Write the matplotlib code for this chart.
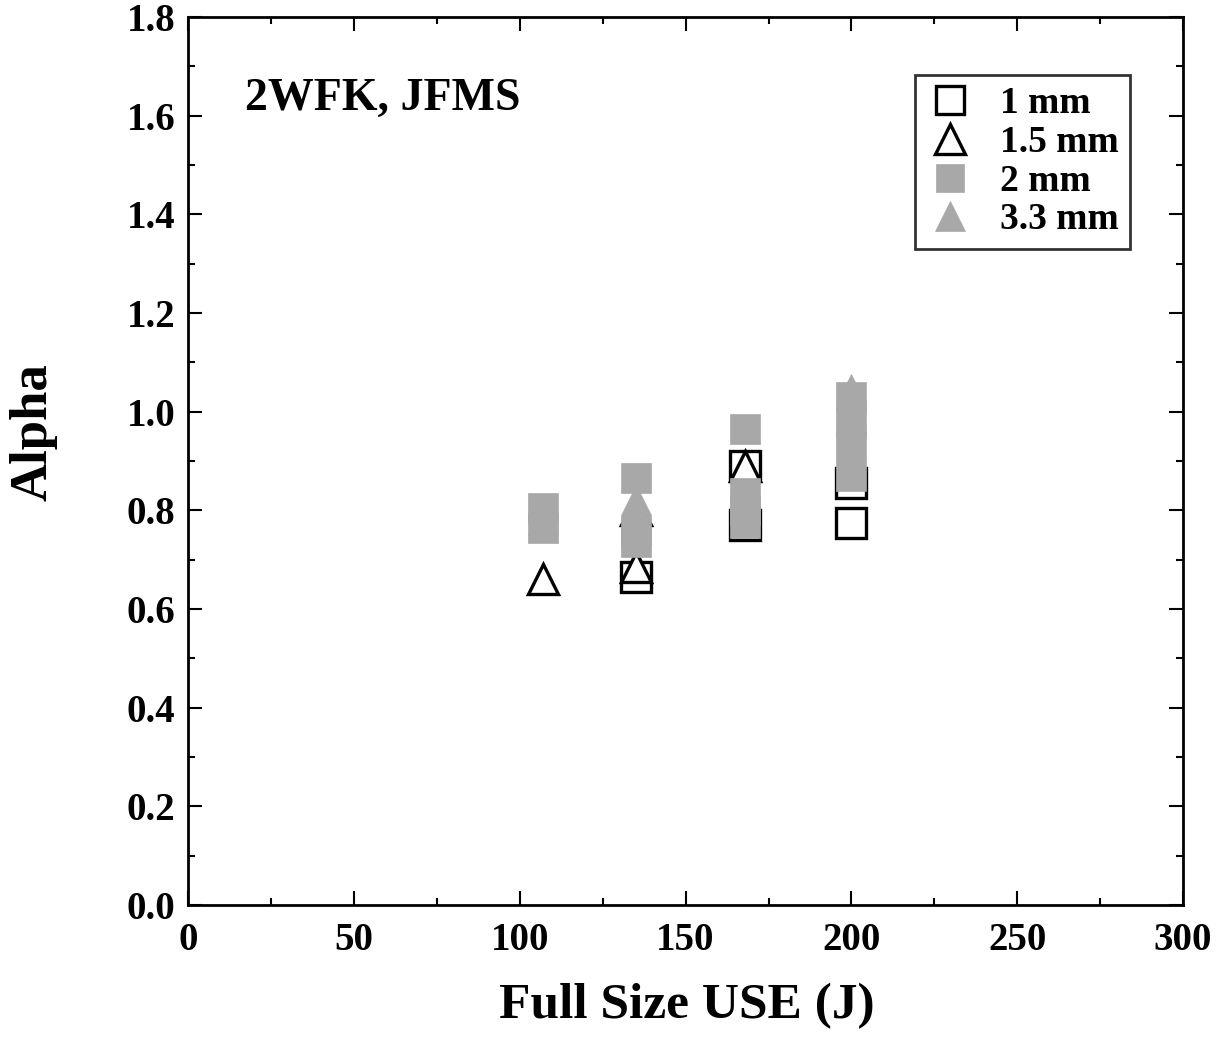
"""
Alpha vs full size upper shelf energy, 2WFK / JFMS
"""

import matplotlib
matplotlib.use('Agg')
import matplotlib.pyplot as plt
from matplotlib.ticker import MultipleLocator, FormatStrFormatter

plt.rcParams['font.family'] = ['Liberation Serif', 'DejaVu Serif']
plt.rcParams['font.weight'] = 'bold'

# 1 mm (open squares)
x_1mm = [135, 168, 168, 200, 200]
y_1mm = [0.665, 0.89, 0.77, 0.855, 0.775]

# 1.5 mm (open triangles)
x_15mm = [107, 135, 135, 168]
y_15mm = [0.66, 0.685, 0.80, 0.89]

# 2 mm (filled squares)
x_2mm = [107, 107, 135, 135, 135, 168, 168, 168, 168, 200, 200, 200, 200]
y_2mm = [0.805, 0.765, 0.865, 0.76, 0.735, 0.965, 0.835, 0.80, 0.775, 1.03, 0.98, 0.93, 0.87]

# 3.3 mm (filled triangles)
x_33mm = [107, 135, 168, 200]
y_33mm = [0.78, 0.82, 0.82, 1.045]

gray = '#a8a8a8'

fig = plt.figure(figsize=(12.21, 10.37), dpi=100)
ax = fig.add_axes([0.154, 0.1273, 0.815, 0.8563])

ax.plot(x_1mm, y_1mm, 's', ms=21.5, mfc='white', mec='black', mew=2.4,
        linestyle='none', label='1 mm')
ax.plot(x_15mm, y_15mm, '^', ms=22, mfc='white', mec='black', mew=2.4,
        linestyle='none', label='1.5 mm')
ax.plot(x_2mm, y_2mm, 's', ms=21.5, mfc=gray, mec=gray, mew=0.5,
        linestyle='none', label='2 mm')
ax.plot(x_33mm, y_33mm, '^', ms=22, mfc=gray, mec=gray, mew=0.5,
        linestyle='none', label='3.3 mm')

ax.set_xlim(0, 300)
ax.set_ylim(0, 1.8)
ax.xaxis.set_major_locator(MultipleLocator(50))
ax.xaxis.set_minor_locator(MultipleLocator(25))
ax.yaxis.set_major_locator(MultipleLocator(0.2))
ax.yaxis.set_minor_locator(MultipleLocator(0.1))
ax.yaxis.set_major_formatter(FormatStrFormatter('%.1f'))

ax.tick_params(which='both', direction='in', top=True, right=True, width=1.5)
ax.tick_params(which='major', length=10, labelsize=28)
ax.tick_params(axis='x', which='major', pad=12)
ax.tick_params(axis='y', which='major', pad=9)
ax.tick_params(which='minor', length=5)
for lbl in ax.get_xticklabels() + ax.get_yticklabels():
    lbl.set_fontweight('bold')
for s in ax.spines.values():
    s.set_linewidth(2)

ax.set_xlabel('Full Size USE (J)', fontsize=37, fontweight='bold')
ax.xaxis.set_label_coords(0.5015, -0.088)
ax.set_ylabel('Alpha', fontsize=38, fontweight='bold')
ax.yaxis.set_label_coords(-0.131, 0.532)

ax.text(0.057, 0.908, '2WFK, JFMS', transform=ax.transAxes,
        fontsize=33, fontweight='bold', va='center', ha='left')

leg = ax.legend(loc='upper right', bbox_to_anchor=(0.9467, 0.9347),
                fontsize=27, frameon=True, fancybox=False, edgecolor='black',
                handletextpad=0.68, borderpad=0.3, labelspacing=0.1,
                handlelength=1.3, borderaxespad=0, markerscale=0.95)
leg.get_frame().set_linewidth(2)
for t in leg.get_texts():
    t.set_fontweight('bold')

plt.savefig('out.png', dpi=100)
